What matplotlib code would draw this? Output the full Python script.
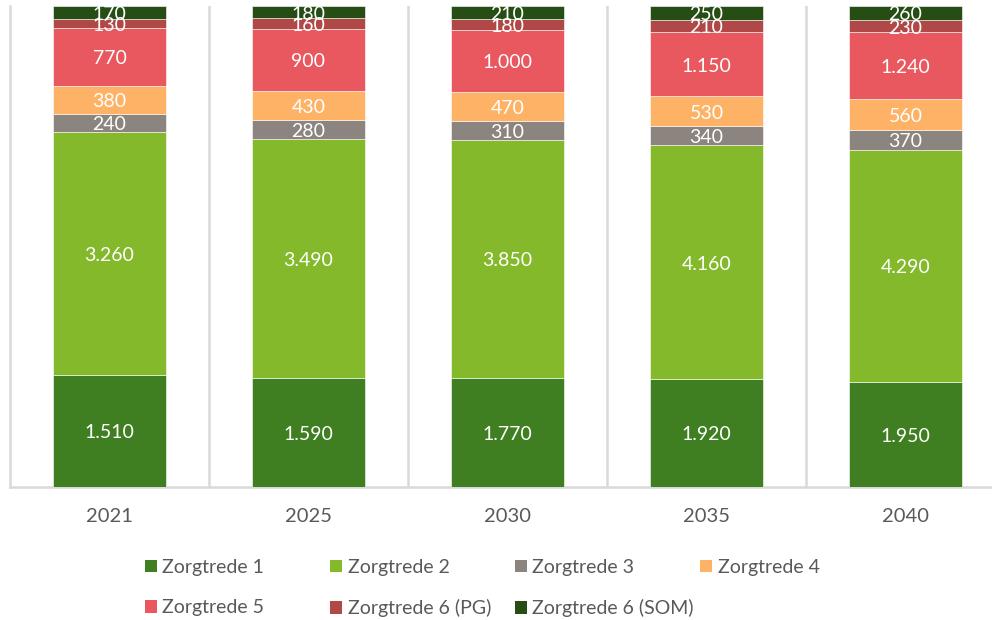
import matplotlib.pyplot as plt
import numpy as np
from matplotlib.patches import Patch

plt.rcParams['font.family'] = ['Lato', 'DejaVu Sans']

# data
years = ['2021', '2025', '2030', '2035', '2040']
series = ['Zorgtrede 1', 'Zorgtrede 2', 'Zorgtrede 3', 'Zorgtrede 4',
          'Zorgtrede 5', 'Zorgtrede 6 (PG)', 'Zorgtrede 6 (SOM)']
zt1 = [1510, 1590, 1770, 1920, 1950]
zt2 = [3260, 3490, 3850, 4160, 4290]
zt3 = [240, 280, 310, 340, 370]
zt4 = [380, 430, 470, 530, 560]
zt5 = [770, 900, 1000, 1150, 1240]
zt6_pg = [130, 160, 180, 210, 230]
zt6_som = [170, 180, 210, 250, 260]
colors = ['#3f7f22', '#84b92b', '#8c847e', '#fdb266', '#e8585e', '#b04848', '#264d14']

values = np.array([zt1, zt2, zt3, zt4, zt5, zt6_pg, zt6_som], dtype=float)
totals = values.sum(axis=0)
shares = values / totals

fig = plt.figure(figsize=(9.92, 6.2), dpi=100)
ax = fig.add_axes([10 / 992, 133 / 620, 995 / 992, 481 / 620])

x = np.arange(len(years))
bottom = np.zeros(len(years))
for i in range(len(series)):
    ax.bar(x, shares[i], 0.563, bottom=bottom, color=colors[i],
           edgecolor='white', linewidth=0.4, zorder=3)
    for j in range(len(years)):
        label = f"{int(values[i, j]):,}".replace(',', '.')
        ax.text(x[j], bottom[j] + shares[i, j] / 2 - 0.004, label, ha='center', va='center',
                color='white', fontsize=14, zorder=4)
    bottom += shares[i]

ax.set_xlim(-0.5, len(years) - 0.5)
ax.set_ylim(0, 1)
ax.set_yticks([])
for sep in np.arange(0.5, len(years) - 0.5):
    ax.axvline(sep, color='#d9d9d9', linewidth=1.8, zorder=1)
for s in ['top', 'right']:
    ax.spines[s].set_visible(False)
for s in ['left', 'bottom']:
    ax.spines[s].set_color('#d9d9d9')
    ax.spines[s].set_linewidth(1.8)
ax.set_xticks(x)
ax.set_xticklabels(years)
ax.tick_params(axis='x', length=0, pad=15, labelsize=14.5, labelcolor='#595959')

# legend, one column at a time so the columns are evenly spaced
for c in range(4):
    idx = [k for k in (c, c + 4) if k < len(series)]
    handles = [Patch(facecolor=colors[k], edgecolor='none') for k in idx]
    fig.legend(handles, [series[k] for k in idx], loc='upper left',
               bbox_to_anchor=((145 + 185 * c) / 992, 1 - 559 / 620),
               frameon=False, fontsize=14, labelcolor='#595959',
               handlelength=0.6, handleheight=0.6, handletextpad=0.3,
               labelspacing=1.2, borderpad=0, borderaxespad=0)

fig.savefig('out.png', dpi=100)
